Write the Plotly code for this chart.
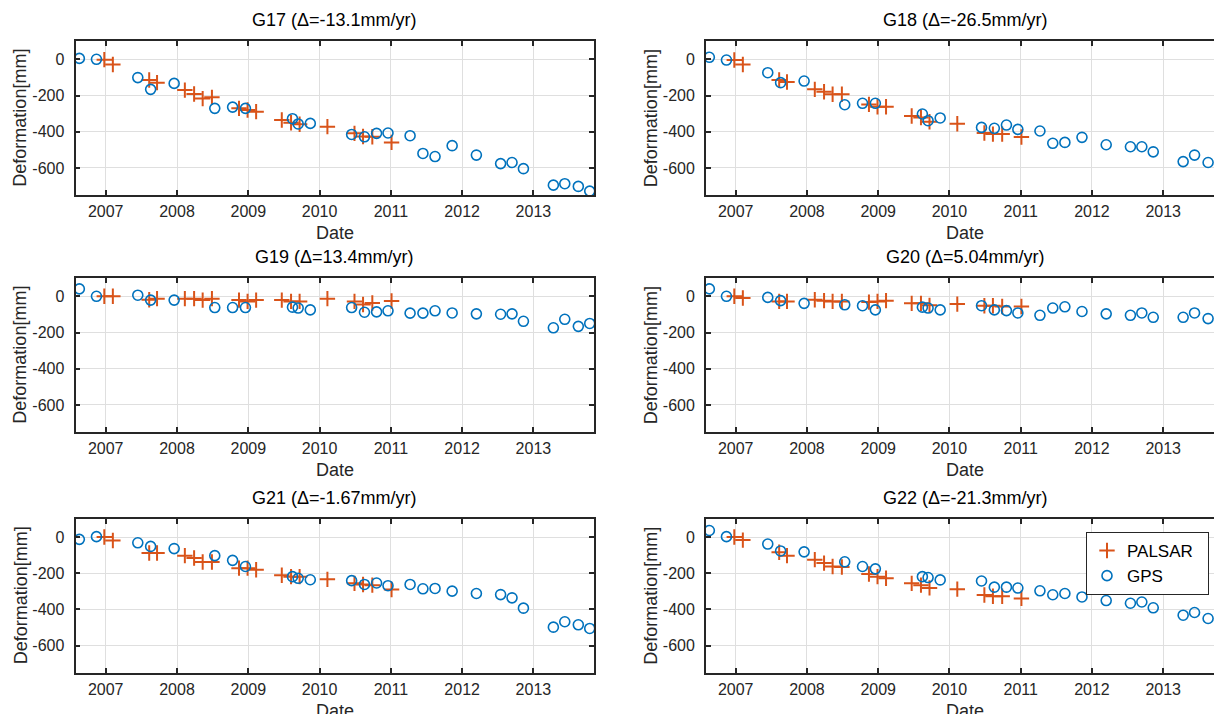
import plotly.graph_objects as go

# ---------------- data ----------------
gps_dates = [2006.63, 2006.87, 2007.45, 2007.63, 2007.96, 2008.53, 2008.78, 2008.96,
             2009.62, 2009.70, 2009.87, 2010.45, 2010.63, 2010.80, 2010.96, 2011.27,
             2011.45, 2011.62, 2011.86, 2012.20, 2012.54, 2012.70, 2012.86, 2013.28,
             2013.44, 2013.63, 2013.79]
palsar_dates = [2006.98, 2007.10, 2007.61, 2007.72, 2008.11, 2008.24, 2008.36, 2008.49,
                2008.87, 2008.99, 2009.11, 2009.47, 2009.60, 2009.72, 2010.11, 2010.49,
                2010.61, 2010.74, 2011.01]

stations = ["G17", "G18", "G19", "G20", "G21", "G22"]
rates = ["-13.1", "-26.5", "13.4", "5.04", "-1.67", "-21.3"]

gps_G17 = [5, 0, -101, -166, -133, -271, -264, -271, -328, -357, -354, -415, -428, -409,
           -407, -422, -520, -537, -477, -529, -576, -570, -604, -695, -687, -702, -728]
gps_G18 = [11, -4, -74, -129, -120, -251, -243, -243, -302, -339, -324, -376, -381, -363,
           -387, -396, -464, -459, -431, -472, -483, -483, -511, -565, -529, -570, None]
gps_G19 = [41, 0, 6, -21, -21, -62, -62, -62, -60, -65, -75, -62, -88, -86,
           -80, -93, -93, -80, -92, -97, -99, -97, -138, -174, -127, -166, -150]
gps_G20 = [41, 0, -6, -24, -39, -47, -52, -75, -60, -65, -75, -52, -75, -79,
           -92, -105, -65, -58, -84, -97, -105, -92, -116, -116, -92, -123, None]
gps_G21 = [-13, 2, -32, -52, -64, -103, -129, -163, -219, -228, -236, -241, -262, -254,
           -269, -262, -286, -284, -299, -312, -318, -336, -393, -498, -468, -485, -505]
gps_G22 = [36, 2, -39, -77, -82, -137, -163, -176, -219, -224, -237, -243, -277, -277,
           -282, -297, -319, -312, -331, -351, -366, -359, -391, -432, -417, -450, None]

palsar_G17 = [-2, -29, -114, -129, -170, -192, -217, -210, -271, -280, -289, -335, -350,
              -359, -372, -409, -426, -428, -459]
palsar_G18 = [-4, -29, -114, -125, -166, -179, -193, -193, -249, -262, -262, -313, -321,
              -345, -356, -407, -413, -413, -429]
palsar_G19 = [0, 0, -19, -13, -13, -13, -21, -13, -21, -28, -21, -21, -28, -28, -13,
              -28, -45, -37, -26]
palsar_G20 = [0, -9, -28, -28, -19, -24, -28, -28, -32, -28, -24, -39, -39, -50, -43,
              -52, -52, -56, -56]
palsar_G21 = [0, -19, -88, -88, -103, -116, -138, -138, -172, -172, -181, -211, -219,
              -219, -234, -256, -262, -266, -290]
palsar_G22 = [0, -17, -84, -103, -125, -144, -163, -166, -204, -219, -228, -256, -266,
              -281, -288, -320, -327, -327, -339]

gps_all = [gps_G17, gps_G18, gps_G19, gps_G20, gps_G21, gps_G22]
palsar_all = [palsar_G17, palsar_G18, palsar_G19, palsar_G20, palsar_G21, palsar_G22]

year_ticks = [2007, 2008, 2009, 2010, 2011, 2012, 2013]
year_labels = [str(y) for y in year_ticks]
y_ticks = [0, -200, -400, -600]
y_labels = ["0", "-200", "-400", "-600"]

# ---------------- layout geometry ----------------
W, H = 1214, 714
FONT = "Liberation Sans, Arial, Helvetica, sans-serif"
TXT = "#262626"
BLUE = "#0072BD"
ORANGE = "#D95319"
GRID = "#dfdfdf"

col_px = [(75.5, 594.0), (706.0, 1214.0)]
col_range = [(2006.576, 2013.85), (2006.583, 2013.713)]
row_px = [(41.2, 195.1), (278.2, 432.1), (518.9, 672.8)]
plot_w = 594.0 - 75.5

fig = go.Figure()
annotations = []

for i, st in enumerate(stations):
    r, c = divmod(i, 2)
    n = i + 1
    xa = "x" if n == 1 else f"x{n}"
    ya = "y" if n == 1 else f"y{n}"
    fig.add_trace(go.Scatter(
        x=palsar_dates, y=palsar_all[i], mode="markers", name="PALSAR\u00a0\u00a0",
        xaxis=xa, yaxis=ya, showlegend=(i == 5),
        marker=dict(symbol="cross-thin", size=11, color=ORANGE,
                    line=dict(color=ORANGE, width=2))))
    fig.add_trace(go.Scatter(
        x=gps_dates, y=gps_all[i], mode="markers", name="GPS",
        xaxis=xa, yaxis=ya, showlegend=(i == 5),
        marker=dict(symbol="circle-open", size=10, color=BLUE,
                    line=dict(color=BLUE, width=1.6))))

    x0, x1 = col_px[c]
    t, b = row_px[r]
    xd = [x0 / W, x1 / W]
    yd = [1 - b / H, 1 - t / H]
    common = dict(showline=True, linecolor=TXT, linewidth=1.8, ticks="inside",
                  ticklen=5, tickwidth=1.5, tickcolor=TXT, showgrid=True,
                  gridcolor=GRID, gridwidth=1, zeroline=False,
                  tickfont=dict(family=FONT, size=16, color=TXT))
    xkey = "xaxis" if n == 1 else f"xaxis{n}"
    ykey = "yaxis" if n == 1 else f"yaxis{n}"
    fig.update_layout(**{
        xkey: dict(domain=xd, anchor=ya, range=list(col_range[c]),
                   tickvals=year_ticks, ticktext=year_labels,
                   mirror="allticks", ticklabelstandoff=1, **common),
        ykey: dict(domain=yd, anchor=xa, range=[-750, 100],
                   tickvals=y_ticks, ticktext=y_labels,
                   mirror=("allticks" if c == 0 else False),
                   ticklabelstandoff=6, **common),
    })
    xm = x0 + plot_w / 2
    annotations.append(dict(text=f"{st} (\u0394={rates[i]}mm/yr)", xref="paper", yref="paper",
                            x=xm / W, y=1 - (t - 21) / H, showarrow=False,
                            xanchor="center", yanchor="middle",
                            font=dict(family=FONT, size=18, color="#000000")))
    annotations.append(dict(text="Date", xref="paper", yref="paper",
                            x=xm / W, y=1 - (b + 38) / H, showarrow=False,
                            xanchor="center", yanchor="middle",
                            font=dict(family=FONT, size=18, color=TXT)))
    annotations.append(dict(text="Deformation[mm]", xref="paper", yref="paper",
                            x=(x0 - 55) / W, y=1 - (t + b) / 2 / H, showarrow=False,
                            textangle=-90, xanchor="center", yanchor="middle",
                            font=dict(family=FONT, size=18, color=TXT)))

fig.update_layout(
    width=W, height=H,
    margin=dict(l=0, r=0, t=0, b=0),
    paper_bgcolor="white", plot_bgcolor="white",
    font=dict(family=FONT, color=TXT),
    annotations=annotations,
    legend=dict(x=1086 / W, y=1 - 532 / H, xanchor="left", yanchor="top",
                bgcolor="white", bordercolor=TXT, borderwidth=1,
                font=dict(family=FONT, size=17, color="#000000"),
                tracegroupgap=0, itemwidth=30),
)

fig.write_html("out.html")
